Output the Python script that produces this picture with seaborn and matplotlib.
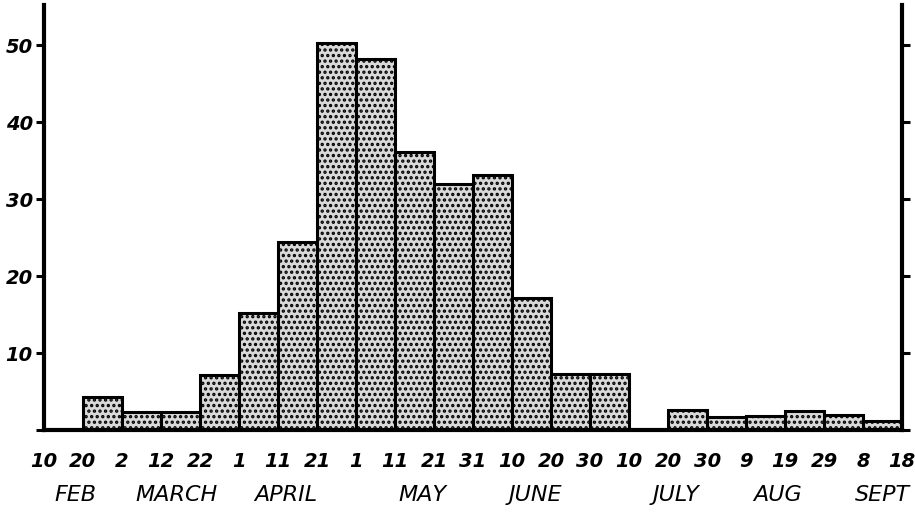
import matplotlib
matplotlib.use("Agg")
import matplotlib.pyplot as plt
import seaborn as sns
import pandas as pd

# 10-day periods, Feb 10 -> Sept 18
day_ticks = ["10", "20", "2", "12", "22", "1", "11", "21", "1", "11", "21", "31",
             "10", "20", "30", "10", "20", "30", "9", "19", "29", "8", "18"]
counts = [0, 4.3, 2.4, 2.4, 7.1, 15.2, 24.4, 50.3, 48.2, 36.1, 32.0, 33.2,
          17.1, 7.3, 7.3, 0, 2.6, 1.7, 1.8, 2.5, 2.0, 1.2]
months = ["FEB", "MARCH", "APRIL", "MAY", "JUNE", "JULY", "AUG", "SEPT"]
month_pos = [0.8, 3.4, 6.2, 9.7, 12.6, 16.2, 18.8, 21.5]
y_ticks = [0, 10, 20, 30, 40, 50]

sns.set_theme(style="white")
plt.rcParams["font.family"] = ["DejaVu Sans"]
plt.rcParams["text.color"] = "black"
plt.rcParams["xtick.color"] = "black"
plt.rcParams["ytick.color"] = "black"
plt.rcParams["hatch.linewidth"] = 1.6
plt.rcParams["hatch.color"] = "black"

df = pd.DataFrame({"period": [i + 0.5 for i in range(len(counts))], "count": counts})

fig = plt.figure(figsize=(9.15, 5.17), dpi=100)
ax = fig.add_axes([0.048, 0.168, 0.938, 0.822])

sns.barplot(data=df, x="period", y="count", native_scale=True, width=1,
            color="#d9d9d9", edgecolor="black", linewidth=2.2, hatch="...",
            saturation=1, ax=ax)

ax.set_xlim(0, 22)
ax.set_ylim(0, 55.2)
ax.set_xticks(range(len(day_ticks)))
ax.set_xticklabels(day_ticks, fontsize=14, fontstyle="italic", fontweight="bold")
ax.set_yticks(y_ticks)
ax.set_yticklabels([""] + [str(v) for v in y_ticks[1:]], fontsize=14,
                   fontstyle="italic", fontweight="bold")
ax.set_xlabel("")
ax.set_ylabel("")

for side in ["left", "right", "bottom"]:
    ax.spines[side].set_linewidth(3)
    ax.spines[side].set_color("black")
ax.spines["top"].set_visible(False)

ax.tick_params(axis="both", direction="out", length=6, width=2.2, color="black")
ax.tick_params(axis="x", pad=10)
ax.tick_params(axis="y", pad=2, right=True, left=True, labelright=False)

for m, pos in zip(months, month_pos):
    ax.text(pos, -0.153, m, transform=ax.get_xaxis_transform(), ha="center",
            va="center", fontsize=16, fontstyle="italic")

fig.savefig("out.png", dpi=100)
